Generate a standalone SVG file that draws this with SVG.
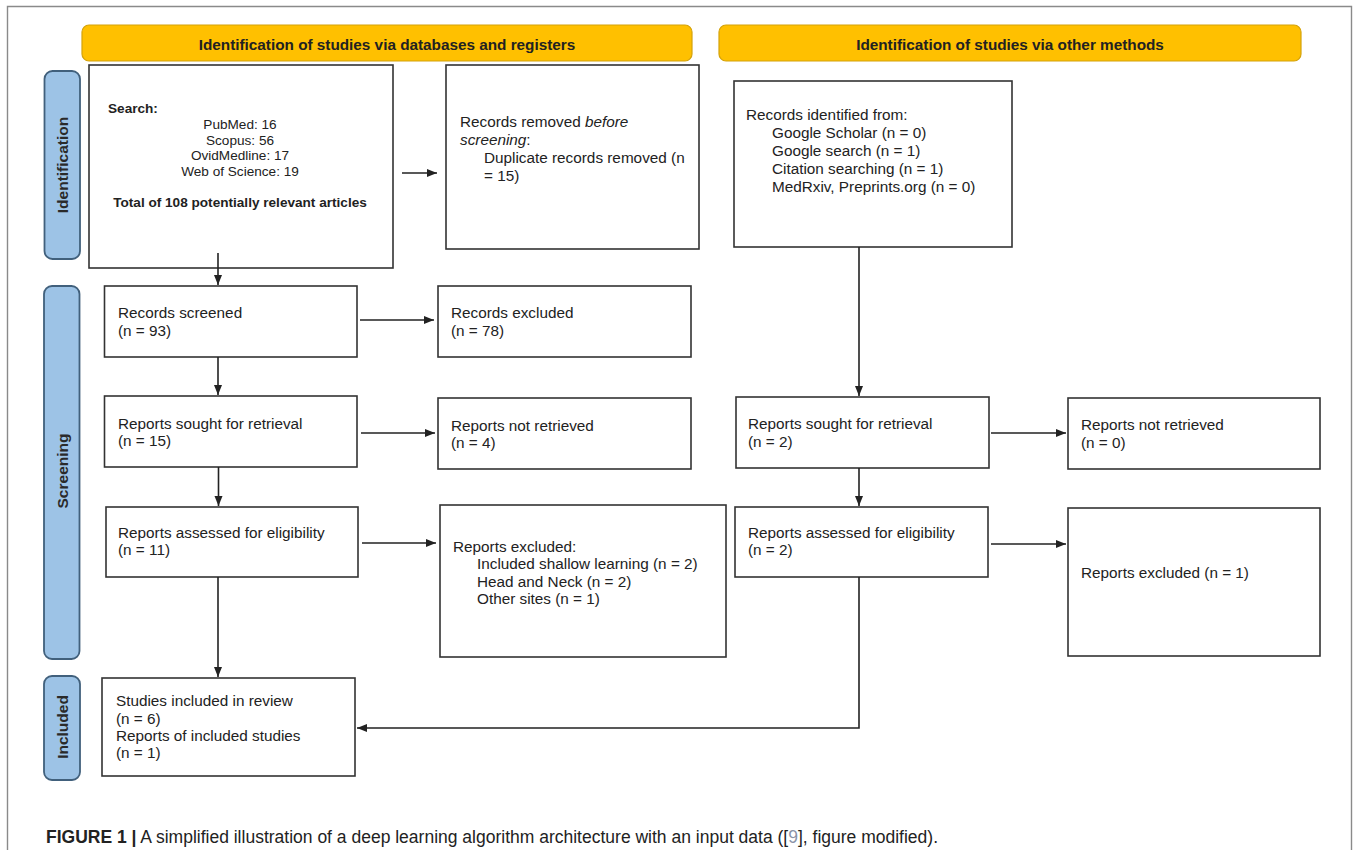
<svg xmlns="http://www.w3.org/2000/svg" width="1358" height="850" viewBox="0 0 1358 850">
<style>
.frame{fill:none;stroke:#8a8a8a;stroke-width:1.4}
.hdr{fill:#FFC000;stroke:#D4A20A;stroke-width:1.2}
.side{fill:#9DC3E6;stroke:#41607c;stroke-width:1.8}
.box{fill:#fff;stroke:#333;stroke-width:1.6}
.t{font-family:"Liberation Sans",Arial,sans-serif;font-size:15.3px;fill:#222}
.ts{font-family:"Liberation Sans",Arial,sans-serif;font-size:13.6px;fill:#222}
.hb{font-family:"Liberation Sans",Arial,sans-serif;font-size:15.3px;font-weight:bold;fill:#222}
.sb{font-family:"Liberation Sans",Arial,sans-serif;font-size:15.5px;font-weight:bold;fill:#2a2a2a}
.cap{font-family:"Liberation Sans",Arial,sans-serif;font-size:17.5px;fill:#222}
.conn{stroke:#222;stroke-width:1.6;fill:none}
</style>
<defs>
<marker id="ah" markerWidth="11" markerHeight="10" refX="10" refY="5" orient="auto" markerUnits="userSpaceOnUse">
<path d="M0,1 L10,5 L0,9 Z" fill="#222"/>
</marker>
</defs>
<path class="frame" d="M7.5,860 V6.5 H1351.5 V860"/>

<g id="header-db">
<rect class="hdr" x="82" y="25" width="610" height="36" rx="7"/>
<text class="hb" x="387" y="49.5" text-anchor="middle">Identification of studies via databases and registers</text>
</g>
<g id="header-other">
<rect class="hdr" x="719" y="25" width="582" height="36" rx="7"/>
<text class="hb" x="1010" y="49.5" text-anchor="middle">Identification of studies via other methods</text>
</g>

<g id="label-identification">
<rect class="side" x="44.5" y="71" width="35.5" height="188" rx="8"/>
<text class="sb" transform="translate(67.5,165) rotate(-90)" text-anchor="middle">Identification</text>
</g>
<g id="label-screening">
<rect class="side" x="44" y="286" width="35.5" height="373" rx="8"/>
<text class="sb" transform="translate(67.5,471) rotate(-90)" text-anchor="middle">Screening</text>
</g>
<g id="label-included">
<rect class="side" x="44" y="676" width="36" height="104" rx="8"/>
<text class="sb" transform="translate(67.5,727) rotate(-90)" text-anchor="middle">Included</text>
</g>

<g id="search">
<rect class="box" x="89" y="65" width="304" height="203"/>
<text class="ts" x="108" y="113" font-weight="bold">Search:</text>
<text class="ts" text-anchor="middle" x="240" y="129">PubMed: 16</text>
<text class="ts" text-anchor="middle" x="240" y="145">Scopus: 56</text>
<text class="ts" text-anchor="middle" x="240" y="160">OvidMedline: 17</text>
<text class="ts" text-anchor="middle" x="240" y="176">Web of Science: 19</text>
<text class="ts" text-anchor="middle" x="240" y="207" font-weight="bold">Total of 108 potentially relevant articles</text>
</g>
<g id="removed">
<rect class="box" x="446" y="65" width="253" height="184"/>
<text class="t" x="460" y="127">Records removed <tspan font-style="italic">before</tspan></text>
<text class="t" x="460" y="145"><tspan font-style="italic">screening</tspan>:</text>
<text class="t" x="484" y="163">Duplicate records removed (n</text>
<text class="t" x="484" y="181">= 15)</text>
</g>
<g id="other-identified">
<rect class="box" x="734" y="81" width="278" height="166"/>
<text class="t" x="746" y="120">Records identified from:</text>
<text class="t" x="772" y="138">Google Scholar (n = 0)</text>
<text class="t" x="772" y="156">Google search (n = 1)</text>
<text class="t" x="772" y="174">Citation searching (n = 1)</text>
<text class="t" x="772" y="192">MedRxiv, Preprints.org (n = 0)</text>
</g>
<g id="screened">
<rect class="box" x="104.5" y="286" width="252.5" height="71"/>
<text class="t" x="118" y="318">Records screened</text>
<text class="t" x="118" y="336">(n = 93)</text>
</g>
<g id="excluded">
<rect class="box" x="438" y="286" width="253" height="71"/>
<text class="t" x="451" y="318">Records excluded</text>
<text class="t" x="451" y="336">(n = 78)</text>
</g>
<g id="sought">
<rect class="box" x="104.5" y="396" width="252.5" height="71"/>
<text class="t" x="118" y="429">Reports sought for retrieval</text>
<text class="t" x="118" y="446">(n = 15)</text>
</g>
<g id="not-retrieved">
<rect class="box" x="438" y="398" width="253" height="71"/>
<text class="t" x="451" y="431">Reports not retrieved</text>
<text class="t" x="451" y="448">(n = 4)</text>
</g>
<g id="assessed">
<rect class="box" x="106" y="507" width="252" height="70"/>
<text class="t" x="118" y="538">Reports assessed for eligibility</text>
<text class="t" x="118" y="555">(n = 11)</text>
</g>
<g id="reports-excluded">
<rect class="box" x="440" y="505" width="286" height="152"/>
<text class="t" x="453" y="552">Reports excluded:</text>
<text class="t" x="477" y="569">Included shallow learning (n = 2)</text>
<text class="t" x="477" y="587">Head and Neck (n = 2)</text>
<text class="t" x="477" y="604">Other sites (n = 1)</text>
</g>
<g id="other-sought">
<rect class="box" x="736" y="397" width="253" height="71"/>
<text class="t" x="748" y="429">Reports sought for retrieval</text>
<text class="t" x="748" y="447">(n = 2)</text>
</g>
<g id="other-not-retrieved">
<rect class="box" x="1068" y="398" width="252" height="71"/>
<text class="t" x="1081" y="430">Reports not retrieved</text>
<text class="t" x="1081" y="448">(n = 0)</text>
</g>
<g id="other-assessed">
<rect class="box" x="735" y="507" width="253" height="70"/>
<text class="t" x="748" y="538">Reports assessed for eligibility</text>
<text class="t" x="748" y="555">(n = 2)</text>
</g>
<g id="other-excluded">
<rect class="box" x="1068" y="508" width="252" height="148"/>
<text class="t" x="1081" y="578">Reports excluded (n = 1)</text>
</g>
<g id="included">
<rect class="box" x="102" y="678" width="253" height="98"/>
<text class="t" x="116" y="706">Studies included in review</text>
<text class="t" x="116" y="724">(n = 6)</text>
<text class="t" x="116" y="741">Reports of included studies</text>
<text class="t" x="116" y="758">(n = 1)</text>
</g>

<g id="connectors">
<line class="conn" x1="402" y1="173" x2="437" y2="173" marker-end="url(#ah)"/>
<line class="conn" x1="218" y1="253" x2="218" y2="285" marker-end="url(#ah)"/>
<line class="conn" x1="360" y1="320" x2="434" y2="320" marker-end="url(#ah)"/>
<line class="conn" x1="218" y1="357" x2="218" y2="395" marker-end="url(#ah)"/>
<line class="conn" x1="361" y1="433" x2="435" y2="433" marker-end="url(#ah)"/>
<line class="conn" x1="218.5" y1="467" x2="218.5" y2="506" marker-end="url(#ah)"/>
<line class="conn" x1="362" y1="543" x2="436" y2="543" marker-end="url(#ah)"/>
<line class="conn" x1="218" y1="577" x2="218" y2="677" marker-end="url(#ah)"/>
<line class="conn" x1="859" y1="247" x2="859" y2="396" marker-end="url(#ah)"/>
<line class="conn" x1="991" y1="433" x2="1066" y2="433" marker-end="url(#ah)"/>
<line class="conn" x1="859" y1="468" x2="859" y2="506" marker-end="url(#ah)"/>
<line class="conn" x1="991" y1="544" x2="1066" y2="544" marker-end="url(#ah)"/>
<polyline class="conn" points="859,577 859,728 357,728" marker-end="url(#ah)"/>
</g>

<text class="cap" x="46" y="843"><tspan font-weight="bold">FIGURE 1 |</tspan> A simplified illustration of a deep learning algorithm architecture with an input data ([<tspan fill="#8a93a8">9</tspan>], figure modified).</text>
</svg>
